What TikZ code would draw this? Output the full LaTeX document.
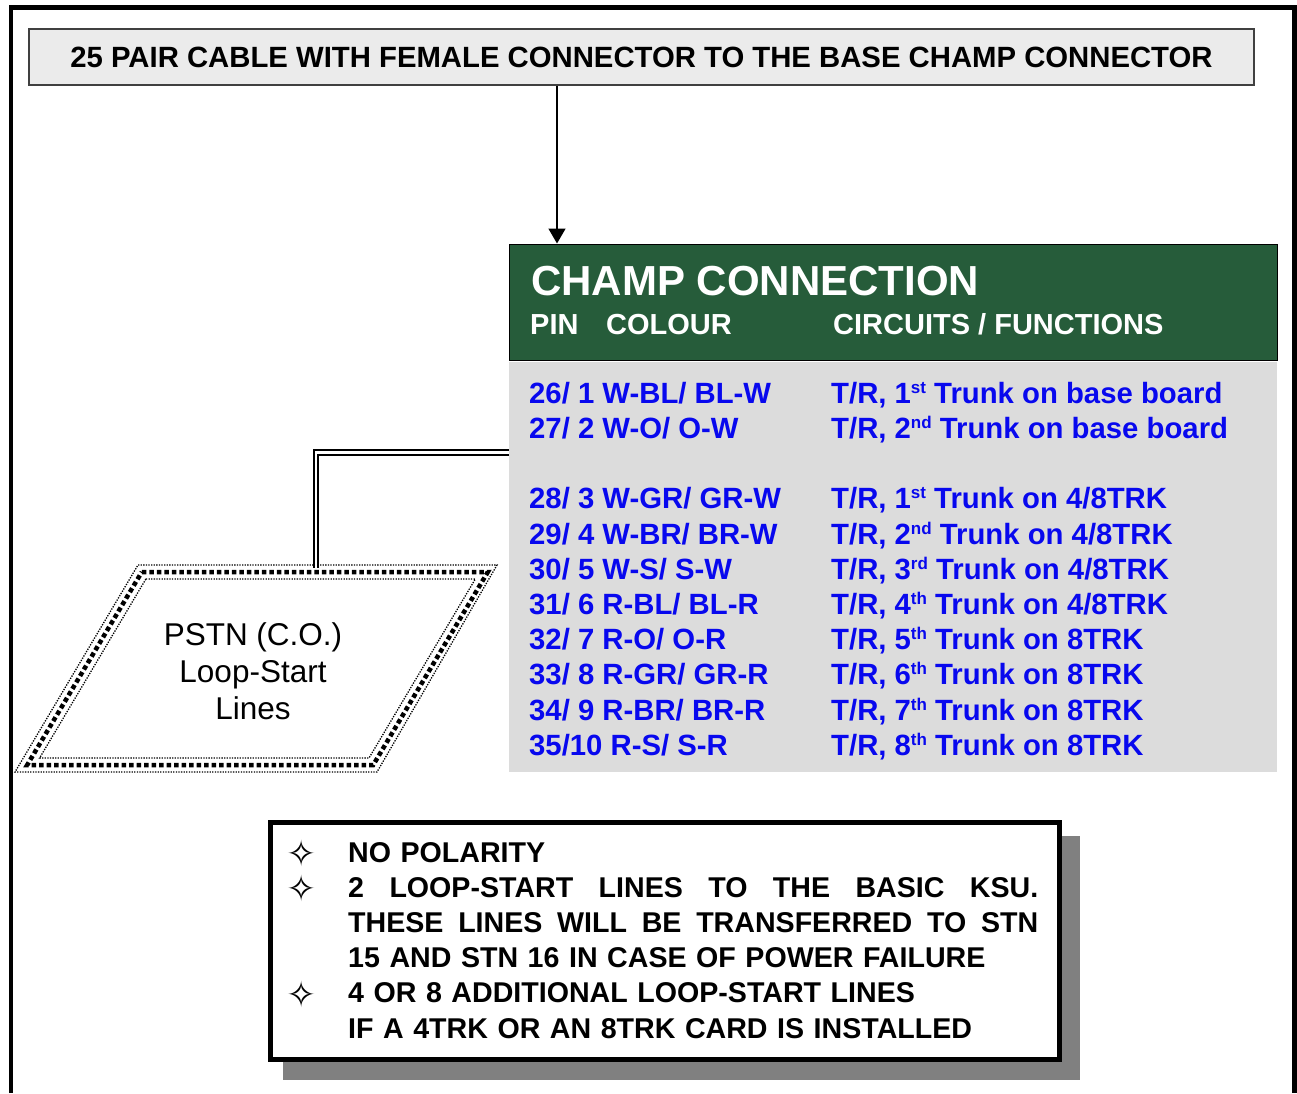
\documentclass[tikz,border=0pt]{standalone}
\usepackage{fontspec}
\setmainfont{Liberation Sans}
\newfontfamily\symfont{DejaVu Sans}
\usepackage{xcolor}
\usepackage{tikz}
\usetikzlibrary{arrows.meta, positioning, calc}

\definecolor{champgreen}{RGB}{38,92,58}
\definecolor{marble}{RGB}{220,220,220}
\definecolor{pinblue}{RGB}{8,8,238}

% small raised ordinal, as in the table
\newcommand{\ord}[1]{\raisebox{9.5pt}{\fontsize{17}{17}\selectfont #1}}
% line stretched over the whole note width
\newcommand{\fullline}[1]{\leavevmode\hbox to 690pt{\spaceskip=0pt plus 1fil\relax #1}}

\begin{document}
\begin{tikzpicture}[x=1pt, y=-1pt,
        frame/.style={line width=4.5pt},
        titlebox/.style={rectangle, draw=black!75, fill=black!8, line width=1.2pt, minimum width=1225pt, minimum height=56pt, inner sep=0pt, font=\bfseries\fontsize{29.3}{34}\selectfont},
        headbox/.style={rectangle, draw=black, fill=champgreen, line width=1pt, minimum width=768pt, minimum height=116pt, inner sep=0pt},
        bodybox/.style={rectangle, fill=marble, minimum width=768pt, minimum height=410pt, inner sep=0pt},
        headtext/.style={anchor=base west, inner sep=0pt, text=white, font=\bfseries\fontsize{29}{34}\selectfont},
        row/.style={anchor=base west, inner sep=0pt, text=pinblue, font=\bfseries\fontsize{29.3}{34}\selectfont},
        feed/.style={-{Triangle[width=17pt,length=15pt]}, line width=1.5pt},
        cable/.style={double, line width=2pt, double distance=2.5pt},
        dotline/.style={line width=1.3pt, dash pattern=on 1.3pt off 1.3pt},
        squareline/.style={line width=4.5pt, dash pattern=on 4.5pt off 3pt},
        pstntext/.style={align=center, inner sep=0pt, font=\fontsize{31.5}{37}\selectfont},
        notebox/.style={rectangle, draw, line width=5pt, fill=white, minimum width=789pt, minimum height=237pt},
        notetext/.style={anchor=base west, inner sep=0pt, text width=690pt, align=left, font=\bfseries\fontsize{28.6}{35.2}\selectfont},
        bullet/.style={inner sep=0pt, font=\symfont\fontsize{36}{36}\selectfont}
    ]
    \useasboundingbox (0,0) rectangle (1297,1093);

    % Outer frame
    \draw[frame] (11,1093) -- (11,7.5) -- (1294.5,7.5) -- (1294.5,1093);

    % Cable
    \node[titlebox] (title) at (641.5,57) {25 PAIR CABLE WITH FEMALE CONNECTOR TO THE BASE CHAMP CONNECTOR};

    % Champ connection table
    \node[headbox] (champhead) at (893,302) {};
    \node[bodybox] (champbody) at (893,567) {};
    \node[headtext, font=\bfseries\fontsize{42}{48}\selectfont] (champtitle) at (531,295) {CHAMP CONNECTION};
    \node[headtext] (pinhead) at (530,334) {PIN};
    \node[headtext] (colourhead) at (606,334) {COLOUR};
    \node[headtext] (fnhead) at (833,334) {CIRCUITS / FUNCTIONS};

    \coordinate (drop) at (557,85);
    \draw[feed] (title.south -| drop) -- (champhead.north -| drop);

    % Pins
    \node[row] (pin1) at (529,403) {26/ 1 W-BL/ BL-W};
    \node[row] (pin2) at (529,438) {27/ 2 W-O/ O-W};
    \node[row] (pin3) at (529,508) {28/ 3 W-GR/ GR-W};
    \node[row] (pin4) at (529,544) {29/ 4 W-BR/ BR-W};
    \node[row] (pin5) at (529,579) {30/ 5 W-S/ S-W};
    \node[row] (pin6) at (529,614) {31/ 6 R-BL/ BL-R};
    \node[row] (pin7) at (529,649) {32/ 7 R-O/ O-R};
    \node[row] (pin8) at (529,684) {33/ 8 R-GR/ GR-R};
    \node[row] (pin9) at (529,720) {34/ 9 R-BR/ BR-R};
    \node[row] (pin10) at (529,755) {35/10 R-S/ S-R};

    % Functions
    \node[row] (fn1) at (831,403) {T/R, 1\ord{st} Trunk on base board};
    \node[row] (fn2) at (831,438) {T/R, 2\ord{nd} Trunk on base board};
    \node[row] (fn3) at (831,508) {T/R, 1\ord{st} Trunk on 4/8TRK};
    \node[row] (fn4) at (831,544) {T/R, 2\ord{nd} Trunk on 4/8TRK};
    \node[row] (fn5) at (831,579) {T/R, 3\ord{rd} Trunk on 4/8TRK};
    \node[row] (fn6) at (831,614) {T/R, 4\ord{th} Trunk on 4/8TRK};
    \node[row] (fn7) at (831,649) {T/R, 5\ord{th} Trunk on 8TRK};
    \node[row] (fn8) at (831,684) {T/R, 6\ord{th} Trunk on 8TRK};
    \node[row] (fn9) at (831,720) {T/R, 7\ord{th} Trunk on 8TRK};
    \node[row] (fn10) at (831,755) {T/R, 8\ord{th} Trunk on 8TRK};

    % PSTN lines
    \draw[dotline] (138,565) -- (497,565) -- (377,772) -- (15,772) -- cycle;
    \draw[squareline] (141.8,572) -- (487.8,572) -- (373.2,765) -- (27.2,765) -- cycle;
    \draw[dotline] (145.9,579) -- (475.3,579) -- (369,758) -- (39.6,758) -- cycle;
    \node[pstntext] (pstn) at (253,671) {PSTN (C.O.)\\Loop-Start\\Lines};

    \coordinate (tap) at (509,452.5);
    \coordinate (pstntop) at (316,568);
    \draw[cable] (tap) -| (pstntop);

    % Notes
    \fill[black!50] (283,836) rectangle (1080,1080);
    \node[notebox] (notes) at (665,941) {};
    \node[bullet] (bullet1) at (302,853) {✧};
    \node[bullet] (bullet2) at (302,888) {✧};
    \node[bullet] (bullet3) at (302,994) {✧};
    \node[notetext] (notelines) at (348,862) {NO POLARITY\\
        \fullline{2 LOOP-START LINES TO THE BASIC KSU.}\\
        \fullline{THESE LINES WILL BE TRANSFERRED TO STN}\\
        15 AND STN 16 IN CASE OF POWER FAILURE\\
        4 OR 8 ADDITIONAL LOOP-START LINES\\
        IF A 4TRK OR AN 8TRK CARD IS INSTALLED};

\end{tikzpicture}
\end{document}
